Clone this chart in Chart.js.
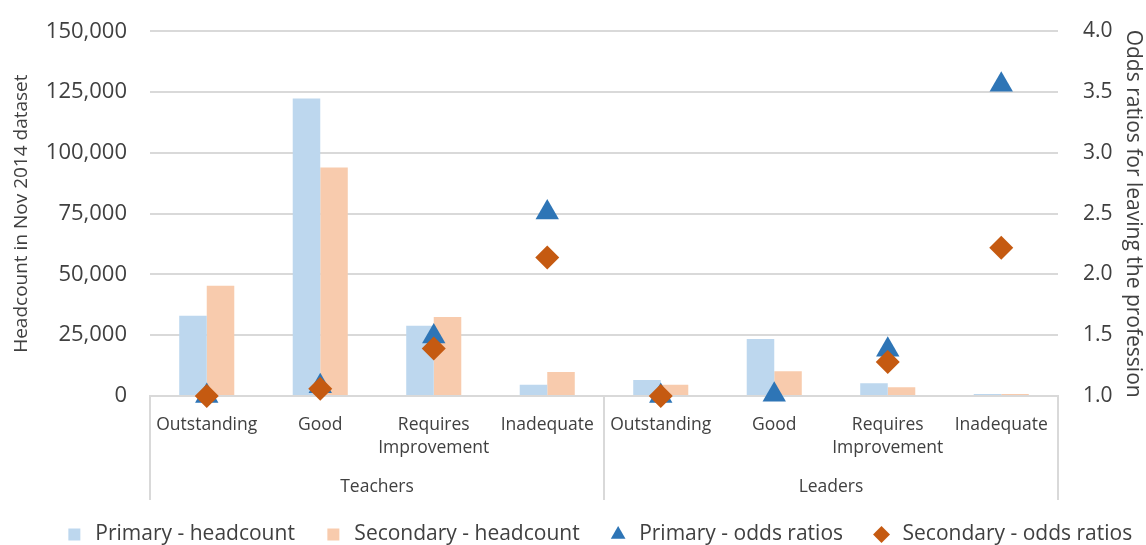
<!DOCTYPE html>
<html>
<head>
<meta charset="utf-8">
<script src="https://cdn.jsdelivr.net/npm/chart.js@4.4.1/dist/chart.umd.min.js"></script>
<style>
  html, body { margin: 0; padding: 0; background: #fff; }
  #wrap { width: 1146px; height: 545px; }
</style>
</head>
<body>
<div id="wrap"><canvas id="chart"></canvas></div>
<script>
// categories (two groups of four)
const categories = ['Outstanding', 'Good', ['Requires', 'Improvement'], 'Inadequate',
                    'Outstanding', 'Good', ['Requires', 'Improvement'], 'Inadequate'];
const groups = ['Teachers', 'Leaders'];

// headcount (left axis)
const primaryHeadcount   = [33000, 122400, 28900, 4600, 6600, 23400, 5200, 800];
const secondaryHeadcount = [45300, 94000, 32500, 9900, 4600, 10200, 3600, 800];

// odds ratios (right axis)
const primaryOdds   = [1.0, 1.08, 1.49, 2.51, 1.0, 1.01, 1.38, 3.56];
const secondaryOdds = [1.0, 1.06, 1.39, 2.14, 1.0, null, 1.28, 2.22];

const textColor = '#404040';
const gridColor = '#d9d9d9';
Chart.defaults.font.family = '"Open Sans", "Noto Sans", sans-serif';
Chart.defaults.color = textColor;

// dividers and group names under the category labels
const groupAxis = {
  id: 'groupAxis',
  afterLayout(chart) {
    // Excel centres the legend a little right of the canvas centre
    chart.legend.left += 25;
    chart.legend.right += 25;
  },
  afterDraw(chart) {
    const xs = chart.scales.x;
    const ctx = chart.ctx;
    const per = categories.length / groups.length;
    const bottom = chart.chartArea.bottom;
    ctx.save();
    ctx.strokeStyle = gridColor;
    ctx.lineWidth = 2;
    for (let g = 0; g <= groups.length; g++) {
      const x = Math.round(xs.getPixelForValue(g * per - 0.5));
      ctx.beginPath();
      ctx.moveTo(x, bottom);
      ctx.lineTo(x, xs.bottom + 4);
      ctx.stroke();
    }
    ctx.fillStyle = textColor;
    ctx.font = '17.5px "Open Sans", "Noto Sans", sans-serif';
    ctx.textAlign = 'center';
    ctx.textBaseline = 'middle';
    groups.forEach((name, g) => {
      const x = xs.getPixelForValue(g * per - 0.5 + per / 2);
      ctx.fillText(name, x, xs.bottom - 9);
    });
    ctx.restore();
  }
};

const ctx = document.getElementById('chart').getContext('2d');
new Chart(ctx, {
  type: 'bar',
  data: {
    labels: categories,
    datasets: [
      {
        label: 'Primary - headcount',
        data: primaryHeadcount,
        backgroundColor: '#bdd7ee',
        yAxisID: 'y',
        order: 3,
        pointStyle: 'rect',
        categoryPercentage: 0.485,
        barPercentage: 1
      },
      {
        label: 'Secondary - headcount',
        data: secondaryHeadcount,
        backgroundColor: '#f8cbad',
        yAxisID: 'y',
        order: 3,
        pointStyle: 'rect',
        categoryPercentage: 0.485,
        barPercentage: 1
      },
      {
        type: 'line',
        label: 'Primary - odds ratios',
        data: primaryOdds,
        showLine: false,
        yAxisID: 'y2',
        order: 2,
        clip: false,
        pointStyle: 'triangle',
        pointRadius: 13.5,
        pointHoverRadius: 13.5,
        pointBorderWidth: 0,
        backgroundColor: '#2e75b6',
        borderColor: '#2e75b6'
      },
      {
        type: 'line',
        label: 'Secondary - odds ratios',
        data: secondaryOdds,
        showLine: false,
        yAxisID: 'y2',
        order: 1,
        clip: false,
        pointStyle: 'rectRot',
        pointRadius: 12,
        pointHoverRadius: 12,
        pointBorderWidth: 0,
        backgroundColor: '#c55a11',
        borderColor: '#c55a11'
      }
    ]
  },
  options: {
    responsive: true,
    maintainAspectRatio: false,
    animation: false,
    layout: { padding: { top: 31, left: 0, right: 0, bottom: 0 } },
    plugins: {
      tooltip: { enabled: false },
      legend: {
        position: 'bottom',
        maxHeight: 49,
        labels: {
          usePointStyle: true,
          boxHeight: 12,
          padding: 28,
          color: textColor,
          font: { size: 21 },
          sort: (a, b) => a.datasetIndex - b.datasetIndex
        }
      }
    },
    scales: {
      x: {
        grid: { display: false, drawTicks: false },
        border: { display: true, color: gridColor, width: 2 },
        ticks: {
          autoSkip: false,
          maxRotation: 0,
          padding: 17,
          color: textColor,
          font: { size: 17.5, lineHeight: 1.35 }
        },
        afterFit: s => { s.height = 100; }
      },
      y: {
        position: 'left',
        min: 0,
        max: 150000,
        grid: { color: gridColor, lineWidth: 2, drawTicks: false },
        border: { display: false },
        ticks: {
          stepSize: 25000,
          padding: 23,
          color: textColor,
          font: { size: 22, lineHeight: 0.6 },
          callback: v => v.toLocaleString('en-US')
        },
        title: {
          display: true,
          text: 'Headcount in Nov 2014 dataset',
          color: textColor,
          font: { size: 19 },
          padding: { top: 10, bottom: 0 }
        },
        afterFit: s => { s.width = 150; }
      },
      y2: {
        position: 'right',
        min: 1,
        max: 4,
        grid: { display: false, drawTicks: false },
        border: { display: false },
        ticks: {
          stepSize: 0.5,
          padding: 25,
          color: textColor,
          font: { size: 21, lineHeight: 0.6 },
          callback: v => v.toFixed(1)
        },
        title: {
          display: true,
          text: 'Odds ratios for leaving the profession',
          color: textColor,
          font: { size: 21 },
          padding: { top: 0, bottom: 0 }
        },
        afterFit: s => { s.width = 88; }
      }
    }
  },
  plugins: [groupAxis]
});
</script>
</body>
</html>
